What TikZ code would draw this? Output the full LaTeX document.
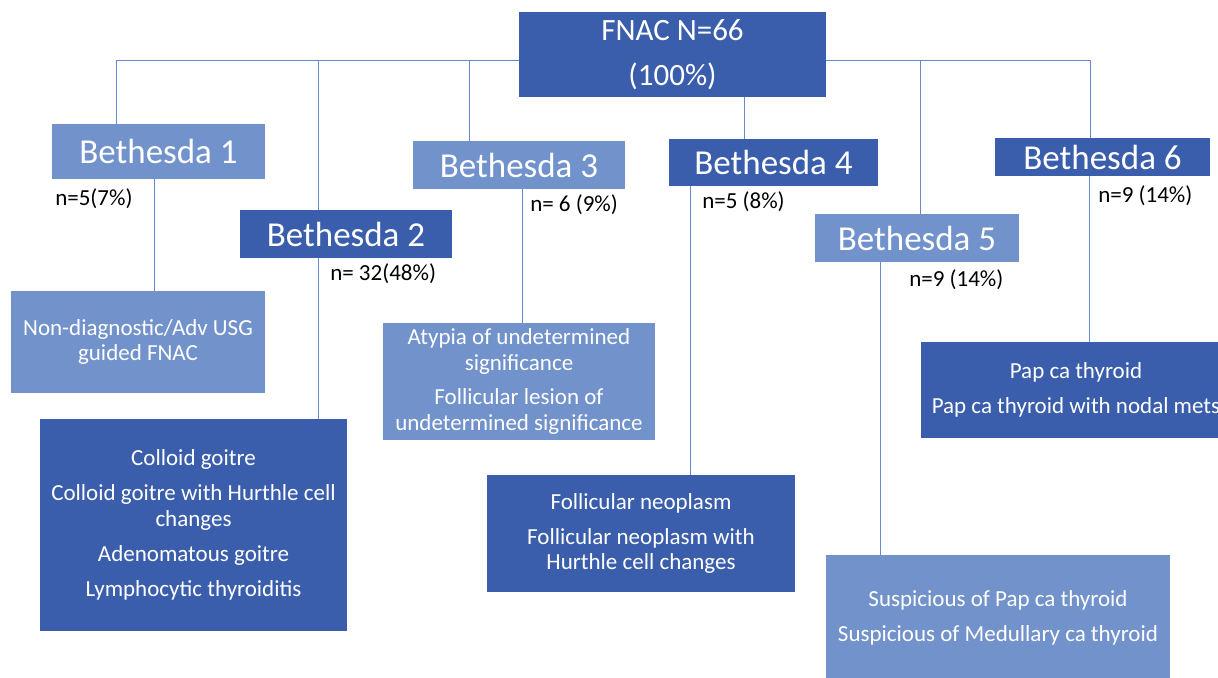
\documentclass[tikz,border=0pt]{standalone}
\usepackage{fontspec}
\setmainfont{Carlito}
\usetikzlibrary{backgrounds}
\definecolor{darkblu}{RGB}{58,94,172}
\definecolor{lightblu}{RGB}{114,146,203}
\definecolor{linkblu}{RGB}{104,136,212}

\begin{document}
\begin{tikzpicture}[x=0.75pt,y=0.75pt,yscale=-1,xscale=1,
  box/.style={inner sep=0pt, align=center, text=white, font=\fontsize{17.25}{19.2}\selectfont},
  darkbox/.style={box, fill=darkblu},
  lightbox/.style={box, fill=lightblu},
  sz/.style 2 args={minimum width=#1*0.75pt, minimum height=#2*0.75pt},
  headbox/.style={font=\fontsize{26.25}{30}\selectfont},
  count/.style={anchor=west, inner sep=0pt, font=\fontsize{17.25}{19.2}\selectfont},
  link/.style={draw=linkblu, line width=0.75}]
\useasboundingbox (0,0) rectangle (1218,678);

%Shape: Rectangle [root]
\node (fnac) [darkbox, sz={307}{85}, font=\fontsize{23.25}{33.75}\selectfont] at (672.5,54.5) {FNAC N=66\\(100\%)};

%Shape: Rectangle [Bethesda]
\node (b1) [lightbox, headbox, sz={213}{55}] at (158.5,151.5) {Bethesda 1};
\node (b2) [darkbox, headbox, sz={212}{48}] at (346,234) {Bethesda 2};
\node (b3) [lightbox, headbox, sz={212}{48}] at (519,165) {Bethesda 3};
\node (b4) [darkbox, headbox, sz={209}{47}] at (773.5,162.5) {Bethesda 4};
\node (b5) [lightbox, headbox, sz={204}{48}] at (917,238) {Bethesda 5};
\node (b6) [darkbox, headbox, sz={215}{38}] at (1102.5,157) {Bethesda 6};

% Text Node
\node (n1) [count] at (55,199) {n=5(7\%)};
\node (n2) [count] at (330,274) {n= 32(48\%)};
\node (n3) [count] at (530,205) {n= 6 (9\%)};
\node (n4) [count] at (702,202) {n=5 (8\%)};
\node (n5) [count] at (909,280) {n=9 (14\%)};
\node (n6) [count] at (1098,196) {n=9 (14\%)};

%Shape: Rectangle [diagnoses]
\node (nd) [lightbox, sz={254}{102}] at (138,342) {Non-diagnostic/Adv USG\\guided FNAC};
\node (colloid) [darkbox, sz={307}{212}] at (193.5,525) {Colloid goitre\\[7pt]Colloid goitre with Hurthle cell\\changes\\[7pt]Adenomatous goitre\\[7pt]Lymphocytic thyroiditis};
\node (aus) [lightbox, sz={272}{117}] at (519,381.5) {Atypia of undetermined\\significance\\[7pt]Follicular lesion of\\undetermined significance};
\node (fn) [darkbox, sz={308}{117}] at (641,533.5) {Follicular neoplasm\\[7pt]Follicular neoplasm with\\Hurthle cell changes};
\node (pap) [darkbox, sz={310}{96}] at (1076,390) {Pap ca thyroid\\[7pt]Pap ca thyroid with nodal mets};
\node (susp) [lightbox, sz={344}{125}] at (998,617.5) {Suspicious of Pap ca thyroid\\[7pt]Suspicious of Medullary ca thyroid};

%Straight Lines
\begin{pgfonlayer}{background}
\coordinate (t1) at (116,60);
\coordinate (t2) at (318,60);
\coordinate (t3) at (469,60);
\coordinate (t5) at (920,60);
\coordinate (t6) at (1090,60);
\draw [link] (t1) -- (t6);
\draw [link] (t1) -- (t1 |- b1.north);
\draw [link] (t2) -- (t2 |- b2.north);
\draw [link] (t3) -- (t3 |- b3.north);
\draw [link] (t5) -- (t5 |- b5.north);
\draw [link] (t6) -- (t6 |- b6.north);

\coordinate (c1) at (154,0);
\coordinate (c3) at (522,0);
\coordinate (c4a) at (744,0);
\coordinate (c4) at (690,0);
\coordinate (c5) at (880,0);
\coordinate (c6) at (1089,0);
\draw [link] (fnac.south -| c4a) -- (b4.north -| c4a);
\draw [link] (b1.south -| c1) -- (nd.north -| c1);
\draw [link] (b2.south -| t2) -- (colloid.north -| t2);
\draw [link] (b3.south -| c3) -- (aus.north -| c3);
\draw [link] (b4.south -| c4) -- (fn.north -| c4);
\draw [link] (b5.south -| c5) -- (susp.north -| c5);
\draw [link] (b6.south -| c6) -- (pap.north -| c6);
\end{pgfonlayer}

\end{tikzpicture}
\end{document}
